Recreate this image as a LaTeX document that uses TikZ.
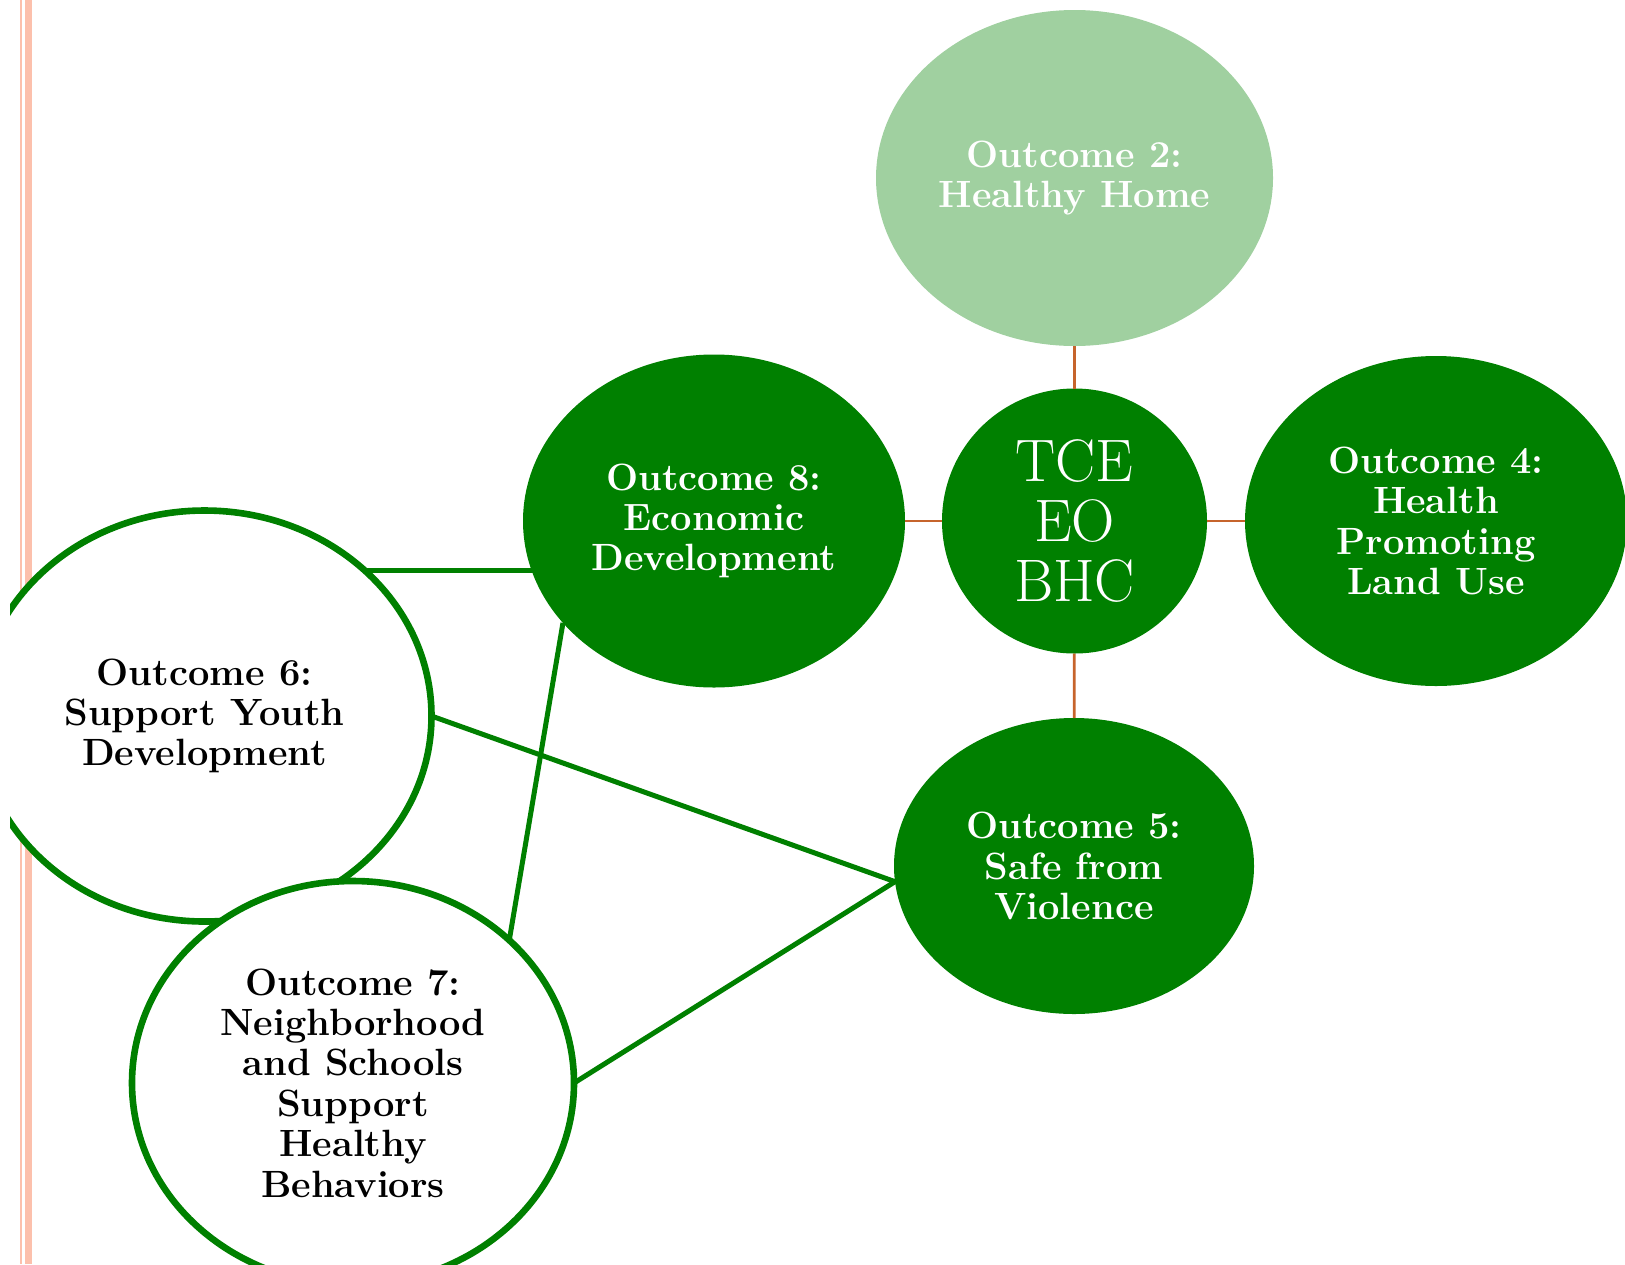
\documentclass[tikz,border=0pt]{standalone}
\usepackage{fontspec}
\usepackage{tikz}
\usetikzlibrary{shapes.geometric,backgrounds}
\definecolor{ogreen}{RGB}{0,128,0}
\definecolor{homegreen}{RGB}{160,208,160}
\definecolor{linkorange}{RGB}{198,100,44}
\definecolor{edgepeach}{RGB}{252,192,172}

\tikzset{
  outcome/.style={ellipse, fill=ogreen, text=white, align=center, inner sep=0pt, outer sep=0pt,
    font=\bfseries\fontsize{19}{20.2}\selectfont},
  ringed/.style={outcome, fill=white, text=black, draw=ogreen, line width=3.3pt},
  hub/.style={circle, fill=ogreen, text=white, align=center, inner sep=0pt, outer sep=0pt,
    minimum size=132.5pt, font=\fontsize{30}{29.8}\selectfont},
  spoke/.style={draw=linkorange, line width=1.4pt},
  tie/.style={draw=ogreen, line width=2.5pt}
}

\begin{document}
\begin{tikzpicture}[x=0.5pt,y=-0.5pt]
\useasboundingbox (0,0) rectangle (1625,1264);
\clip (10,0) rectangle (1625,1264);
% page edge
\fill[edgepeach] (20,0) rectangle (22.3,1264);
\fill[edgepeach] (25,0) rectangle (31.7,1264);

\node[outcome, fill=homegreen, minimum width=198.5pt, minimum height=168pt] (O2) at (1074.5,178) {Outcome 2:\\Healthy Home};
\node[hub] (TCE) at (1074.5,521) {TCE\\EO\\BHC};
\node[outcome, minimum width=191pt, minimum height=166.5pt] (O8) at (714,521) {Outcome 8:\\Economic\\Development};
\node[outcome, minimum width=191pt, minimum height=165pt] (O4) at (1436,521) {Outcome 4:\\Health\\Promoting\\Land Use};
\node[outcome, minimum width=180pt, minimum height=148pt] (O5) at (1074,866) {Outcome 5:\\Safe from\\Violence};
\node[ringed, minimum width=227pt, minimum height=205.5pt] (O6) at (204.5,716) {Outcome 6:\\Support Youth\\Development};
\node[ringed, minimum width=221pt, minimum height=202pt] (O7) at (353,1083) {Outcome 7:\\Neighborhood\\and Schools\\Support\\Healthy\\Behaviors};

\draw[spoke] (O2) -- (TCE);
\draw[spoke] (O8) -- (TCE);
\draw[spoke] (TCE) -- (O4);
\draw[spoke] (TCE) -- (O5);

\begin{scope}[on background layer]
\draw[tie] (O6.north east) -- (O6.north east -| O8.center);
\end{scope}
\draw[tie] (O6.east) -- (O5.185);
\draw[tie] (O7.east) -- (O5.185);
\draw[tie] (O7.north east) -- (O8.214);
\end{tikzpicture}
\end{document}
